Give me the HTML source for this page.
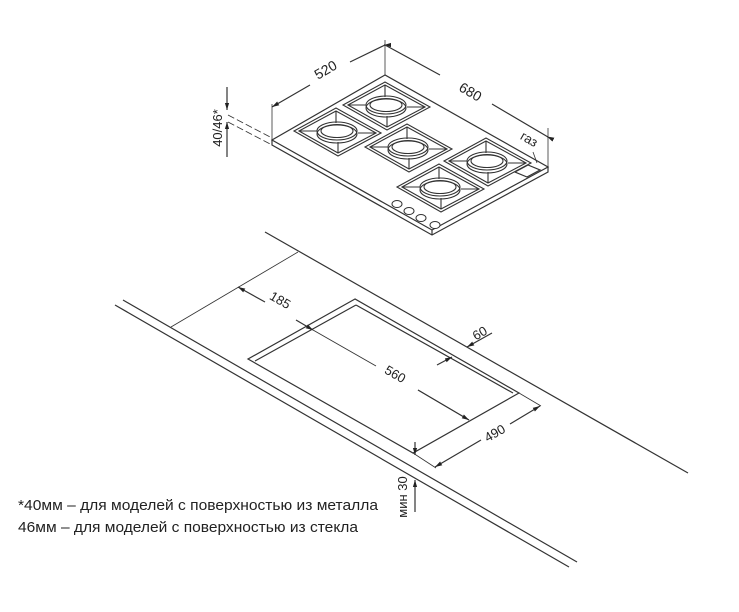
<!DOCTYPE html>
<html><head><meta charset="utf-8"><style>
html,body{margin:0;padding:0;background:#fff;}
svg{display:block;}
text{font-family:"Liberation Sans","DejaVu Sans",sans-serif;fill:#222;}
</style></head><body>
<svg width="739" height="612" viewBox="0 0 739 612" xmlns="http://www.w3.org/2000/svg">
<defs>
<marker id="ar" viewBox="0 0 10 10" refX="10" refY="5" markerWidth="6" markerHeight="6" orient="auto-start-reverse"><path d="M0,2 L10,5 L0,8 z" fill="#222"/></marker>
<g id="burner" fill="none" stroke="#333" stroke-width="1.1">
<path d="M-43,-1 L-1,-24 L44,1 L1,24 Z"/>
<path d="M-38,-1 L-1,-21 L39,1 L1,21 Z"/>
<path d="M-38,-1 L-20,-1 M39,1 L21,1 M-1,-21 L-1,-9 M1,21 L1,10"/>
<ellipse cx="0" cy="-1" rx="20" ry="9"/>
<ellipse cx="0" cy="2" rx="20" ry="9"/>
<ellipse cx="0" cy="-1" rx="16" ry="6.5"/>
</g>
</defs>
<g fill="none" stroke="#333" stroke-width="1.2">
<path d="M385,75 L272,140 L432,230 L548,167 Z"/>
<path d="M272,140 L272,145 L432,235 L548,172 L548,167 M432,230 L432,235"/>
<path d="M515,172 L528,165 L540,170 L527,177 Z"/>
<path d="M272,140 L272,104 M385,75 L385,40 M548,167 L548,128" stroke-width="0.8"/>
<path d="M272,107 L310,85 M350,62 L385,45" marker-start="url(#ar)"/>
<path d="M385,45 L384,45" marker-end="url(#ar)"/>
<path d="M385,45 L440,75 M492,104 L548,137" />
<path d="M548,137 L547,136.5" marker-end="url(#ar)"/>
<path d="M533,152 L537,163" stroke-width="0.8"/>
<path d="M228,115 L272,138 M228,122 L272,145" stroke-dasharray="7,3" stroke-width="0.8"/>
<path d="M227,87 L227,110" marker-end="url(#ar)"/>
<path d="M227,157 L227,122" marker-end="url(#ar)"/>
<path d="M265,232 L688,473"/>
<path d="M123,300 L577,562"/>
<path d="M115,305 L569,567"/>
<path d="M298,252 L171,327" stroke-width="0.8"/>
<path d="M355,299 L248,359 L413,453 L519,393 Z"/>
<path d="M356,305 L255,361 M356,305 L513,393"/>
<path d="M265,302 L238,287" marker-end="url(#ar)"/>
<path d="M296,320 L313,330" marker-end="url(#ar)"/>
<path d="M313,330 L376,366 M418,390 L469,420" stroke-width="0.9"/>
<path d="M418,390 L469,420" marker-end="url(#ar)"/>
<path d="M437,365 L452,357" marker-end="url(#ar)"/>
<path d="M492,333 L467,347" marker-end="url(#ar)"/>
<path d="M413,453 L436,468 M519,393 L541,406" stroke-width="0.8"/>
<path d="M481,440 L435,467" marker-end="url(#ar)"/>
<path d="M510,424 L540,406" marker-end="url(#ar)"/>
<path d="M415,442 L415,455" marker-end="url(#ar)"/>
<path d="M415,512 L415,480" marker-end="url(#ar)"/>
</g>
<use href="#burner" x="386" y="106"/>
<use href="#burner" x="337" y="132"/>
<use href="#burner" x="408" y="148"/>
<use href="#burner" x="487" y="162"/>
<use href="#burner" x="440" y="188"/>
<g fill="#fff" stroke="#333">
<ellipse cx="397" cy="204" rx="5" ry="3.5"/>
<ellipse cx="409" cy="211" rx="5" ry="3.5"/>
<ellipse cx="421" cy="218" rx="5" ry="3.5"/>
<ellipse cx="435" cy="225" rx="5" ry="3.5"/>
</g>
<g font-size="14">
<text transform="translate(328,74) rotate(-30)" text-anchor="middle">520</text>
<text transform="translate(468,96) rotate(30)" text-anchor="middle">680</text>
<text transform="translate(527,143) rotate(30)" text-anchor="middle" font-size="13">газ</text>
<text transform="translate(222,128) rotate(-90)" text-anchor="middle" font-size="13">40/46*</text>
<text transform="translate(278,304) rotate(30)" text-anchor="middle" font-size="13">185</text>
<text transform="translate(393,378) rotate(30)" text-anchor="middle" font-size="13">560</text>
<text transform="translate(482,337) rotate(-30)" text-anchor="middle" font-size="13">60</text>
<text transform="translate(497,437) rotate(-30)" text-anchor="middle" font-size="13">490</text>
<text transform="translate(407,497) rotate(-90)" text-anchor="middle" font-size="13">мин 30</text>
<text x="18" y="510" font-size="15" textLength="360" lengthAdjust="spacingAndGlyphs">*40мм – для моделей  с поверхностью  из металла</text>
<text x="18" y="532" font-size="15" textLength="340" lengthAdjust="spacingAndGlyphs">46мм – для моделей  с поверхностью  из стекла</text>
</g>
</svg>
</body></html>
